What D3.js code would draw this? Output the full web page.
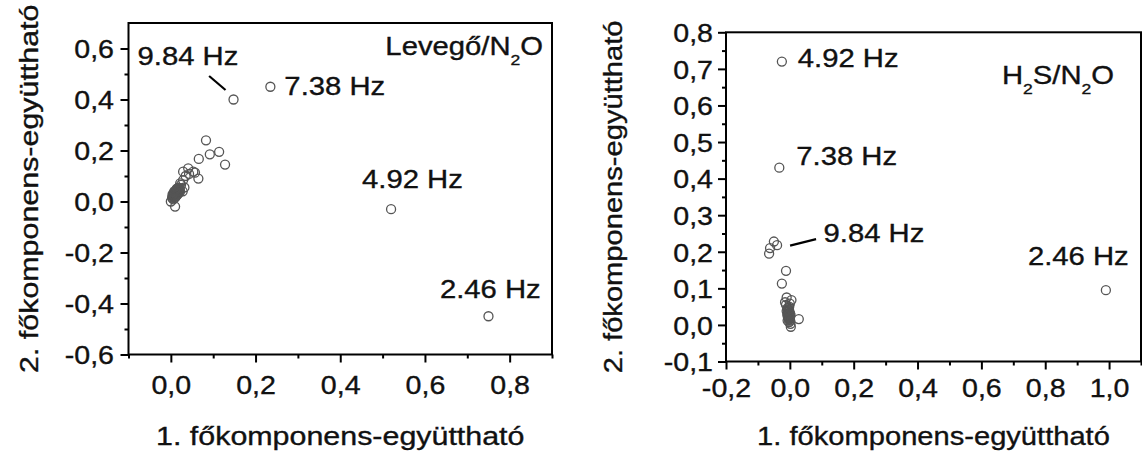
<!DOCTYPE html>
<html><head><meta charset="utf-8">
<script src="https://cdn.jsdelivr.net/npm/d3@7"></script>
<style>body{margin:0;background:#fff}svg{display:block}</style>
</head><body>
<svg id="c" width="1142" height="455"></svg>
<script>
// ---------- DATA ----------
// Left panel: Levegő/N2O  (1. and 2. principal component coefficients)
const leftPC1 = [0.235, 0.148, 0.52, 0.75,
  0.083, 0.114, 0.092, 0.066, 0.128, 0.065, 0.057, 0.041, 0.043, 0.029, 0.053, 0.029, 0.022, 0.018, 0.010, 0.000, 0.010, 0.028, 0.032, 0.024, 0.035,
  0.004, 0.006, 0.008, 0.010, 0.012, 0.014, 0.016, 0.007, 0.009, 0.011, 0.013, 0.005, 0.015, 0.017, 0.019, 0.012, 0.020, 0.006, 0.003, 0.018, 0.022, 0.014, 0.008, 0.010,
  0.005, 0.007, 0.009, 0.011, 0.013, 0.015, 0.017, 0.019, 0.021, 0.006, 0.008, 0.010, 0.012, 0.014, 0.016, 0.018, 0.004, 0.009, 0.013, 0.017];
const leftPC2 = [0.45, 0.40, -0.03, -0.45,
  0.24, 0.195, 0.185, 0.167, 0.145, 0.09, 0.113, 0.13, 0.108, 0.117, 0.117, 0.084, 0.071, 0.052, 0.032, 0.000, -0.020, 0.040, 0.055, 0.065, 0.100,
  0.012, 0.018, 0.022, 0.026, 0.030, 0.034, 0.038, 0.028, 0.035, 0.040, 0.045, 0.024, 0.026, 0.030, 0.034, 0.020, 0.045, 0.008, 0.016, 0.050, 0.040, 0.050, 0.040, 0.015,
  0.020, 0.024, 0.028, 0.032, 0.036, 0.040, 0.044, 0.048, 0.052, 0.030, 0.034, 0.038, 0.042, 0.046, 0.050, 0.054, 0.028, 0.022, 0.026, 0.042];
const leftLabels = ["7.38 Hz", "9.84 Hz", "4.92 Hz", "2.46 Hz"];
const leftLabelPoint = [0, 1, 2, 3];
const leftTitle = ["Levegő/N", "2", "O"];

// Right panel: H2S/N2O
const rightPC1 = [-0.025, -0.033, 0.99,
  -0.065, -0.062, -0.050, -0.040, -0.012, -0.025,
  -0.010, -0.015, 0.005, -0.012, 0.000, -0.008, -0.004, -0.006, -0.002, -0.008, -0.004, -0.001, -0.006, -0.003, 0.000, -0.005, 0.002, -0.010, 0.028, 0.002, 0.003, -0.002, 0.001, -0.007,
  -0.004, -0.002, 0.000, -0.006, -0.003, -0.001, -0.005, -0.002, 0.001, -0.004, -0.003, 0.000, -0.006, -0.002];
const rightPC2 = [0.72, 0.43, 0.095,
  0.195, 0.210, 0.228, 0.218, 0.148, 0.113,
  0.075, 0.062, 0.068, 0.055, 0.058, 0.045, 0.040, 0.035, 0.030, 0.028, 0.025, 0.022, 0.020, 0.017, 0.015, 0.032, 0.027, 0.038, 0.016, 0.003, -0.005, 0.008, 0.012, 0.012,
  0.018, 0.021, 0.024, 0.026, 0.029, 0.033, 0.036, 0.039, 0.031, 0.043, 0.047, 0.019, 0.041, 0.050];
const rightLabels = ["4.92 Hz", "7.38 Hz", "9.84 Hz", "2.46 Hz"];
const rightLabelPoint = [0, 1, 6, 2];
const rightTitle = ["H", "2", "S/N", "2", "O"];

// Axis ticks
const leftXTicks = [0.0, 0.2, 0.4, 0.6, 0.8];
const leftXMinor = [-0.1, 0.1, 0.3, 0.5, 0.7, 0.9];
const leftYTicks = [-0.6, -0.4, -0.2, 0.0, 0.2, 0.4, 0.6];
const leftYMinor = [-0.5, -0.3, -0.1, 0.1, 0.3, 0.5];
const rightXTicks = [-0.2, 0.0, 0.2, 0.4, 0.6, 0.8, 1.0];
const rightXMinor = [-0.1, 0.1, 0.3, 0.5, 0.7, 0.9, 1.1];
const rightYTicks = [-0.1, 0.0, 0.1, 0.2, 0.3, 0.4, 0.5, 0.6, 0.7, 0.8];
const rightYMinor = [-0.05, 0.05, 0.15, 0.25, 0.35, 0.45, 0.55, 0.65, 0.75];

const xAxisTitle = "1. főkomponens-együttható";
const yAxisTitle = "2. főkomponens-együttható";

// ---------- DRAWING ----------
const svg = d3.select("#c");
const FONT = "'Liberation Sans', Arial, sans-serif";
const fmt = d => d3.format(".1f")(d).replace(".", ",").replace("\u2212", "-");

function stretchText(sel, x, y, size, sx, anchor, rot) {
  sel.attr("transform", `translate(${x},${y})${rot ? ` rotate(${rot})` : ""} scale(${sx},1)`)
    .attr("x", 0).attr("y", 0)
    .attr("font-family", FONT).attr("font-size", size)
    .attr("fill", "#111").attr("stroke", "#111").attr("stroke-width", 0.35)
    .attr("text-anchor", anchor || "start");
  return sel;
}

function panel(cfg) {
  const x = d3.scaleLinear().domain(cfg.xDomain).range([cfg.left, cfg.right]);
  const y = d3.scaleLinear().domain(cfg.yDomain).range([cfg.bottom, cfg.top]);
  const g = svg.append("g");

  const styleAxis = a => {
    a.select(".domain").remove();
    a.selectAll(".tick line").attr("stroke", "#000").attr("stroke-width", 2);
  };

  // minor ticks
  g.append("g").attr("transform", `translate(${cfg.left},0)`)
    .call(d3.axisLeft(y).tickValues(cfg.yMinor).tickSize(cfg.minorLen).tickFormat(""))
    .call(styleAxis);
  g.append("g").attr("transform", `translate(0,${cfg.bottom})`)
    .call(d3.axisBottom(x).tickValues(cfg.xMinor).tickSize(cfg.minorLen).tickFormat(""))
    .call(styleAxis);

  // major ticks
  const ya = g.append("g").attr("transform", `translate(${cfg.left},0)`)
    .call(d3.axisLeft(y).tickValues(cfg.yTicks).tickSize(cfg.majorLen).tickFormat(fmt))
    .call(styleAxis);
  ya.selectAll(".tick text").each(function () {
    stretchText(d3.select(this), -cfg.yLabelGap, 0, cfg.tickSize, cfg.tickSx, "end")
      .attr("dy", "0.36em");
  });
  const xa = g.append("g").attr("transform", `translate(0,${cfg.bottom})`)
    .call(d3.axisBottom(x).tickValues(cfg.xTicks).tickSize(cfg.majorLen).tickFormat(fmt))
    .call(styleAxis);
  xa.selectAll(".tick text").each(function () {
    stretchText(d3.select(this), 0, cfg.xLabelBase, cfg.tickSize, cfg.tickSx, "middle")
      .attr("dy", 0);
  });

  // frame
  g.append("rect")
    .attr("x", cfg.left).attr("y", cfg.top)
    .attr("width", cfg.right - cfg.left).attr("height", cfg.bottom - cfg.top)
    .attr("fill", "none").attr("stroke", "#000").attr("stroke-width", 2);

  // points
  const pts = cfg.px.map((v, i) => [v, cfg.py[i]]);
  g.append("g").selectAll("circle").data(pts).join("circle")
    .attr("cx", d => x(d[0])).attr("cy", d => y(d[1]))
    .attr("r", 4.5).attr("fill", "none")
    .attr("stroke", "#555").attr("stroke-width", 1.3);

  // annotations
  cfg.labels.forEach((txt, k) => {
    const p = pts[cfg.labelPoint[k]];
    const o = cfg.labelOffsets[k];
    const t = g.append("text").text(txt);
    stretchText(t, x(p[0]) + o[0], y(p[1]) + o[1], cfg.annSize, cfg.annSx, "start");
    if (o.length > 2) {
      g.append("line")
        .attr("x1", x(p[0]) + o[2]).attr("y1", y(p[1]) + o[3])
        .attr("x2", x(p[0]) + o[4]).attr("y2", y(p[1]) + o[5])
        .attr("stroke", "#000").attr("stroke-width", 2.2);
    }
  });

  // panel title with subscripts
  const tt = g.append("text");
  stretchText(tt, cfg.right - cfg.titleDx, cfg.top + cfg.titleDy, cfg.annSize, cfg.annSx, "end");
  cfg.title.forEach((s, i) => {
    const sub = /^\d$/.test(s);
    tt.append("tspan").text(s)
      .attr("font-size", sub ? 15 : cfg.annSize)
      .attr("dy", sub ? 10 : (i > 0 ? -10 : 0));
  });

  // axis titles
  stretchText(g.append("text").text(xAxisTitle),
    (cfg.left + cfg.right) / 2, cfg.xTitleBase, cfg.titleSize, cfg.titleSx, "middle");
  stretchText(g.append("text").text(yAxisTitle),
    cfg.yTitleX, (cfg.top + cfg.bottom) / 2, cfg.titleSize, cfg.titleSx, "middle", -90);
}

panel({
  xDomain: [-0.1, 0.9], yDomain: [-0.6, 0.7],
  left: 128.5, right: 552, top: 23, bottom: 354.5,
  xTicks: leftXTicks, xMinor: leftXMinor, yTicks: leftYTicks, yMinor: leftYMinor,
  majorLen: 8, minorLen: 4, yLabelGap: 14.5, xLabelBase: 39.5,
  tickSize: 26, tickSx: 1.1, annSize: 25, annSx: 1.17, titleSize: 26, titleSx: 1.17,
  px: leftPC1, py: leftPC2,
  labels: leftLabels, labelPoint: leftLabelPoint,
  labelOffsets: [[14, 8], [-96, -34.5, -24.4, -23.5, -8, -9.5], [-29, -21], [-48.5, -18]],
  title: leftTitle, titleDx: 9, titleDy: 32,
  xTitleBase: 445, yTitleX: 38
});

panel({
  xDomain: [-0.2, 1.1], yDomain: [-0.1, 0.8],
  left: 726, right: 1141, top: 32.3, bottom: 361.5,
  xTicks: rightXTicks, xMinor: rightXMinor, yTicks: rightYTicks, yMinor: rightYMinor,
  majorLen: 8, minorLen: 4, yLabelGap: 13, xLabelBase: 35,
  tickSize: 26, tickSx: 1.1, annSize: 25, annSx: 1.17, titleSize: 26, titleSx: 1.12,
  px: rightPC1, py: rightPC2,
  labels: rightLabels, labelPoint: rightLabelPoint,
  labelOffsets: [[16, 5], [17, -2.5], [46.5, -3.5, 13, 0.5, 39, -6], [-78, -25]],
  title: rightTitle, titleDx: 27, titleDy: 52,
  xTitleBase: 445, yTitleX: 622
});
</script>
</body></html>
